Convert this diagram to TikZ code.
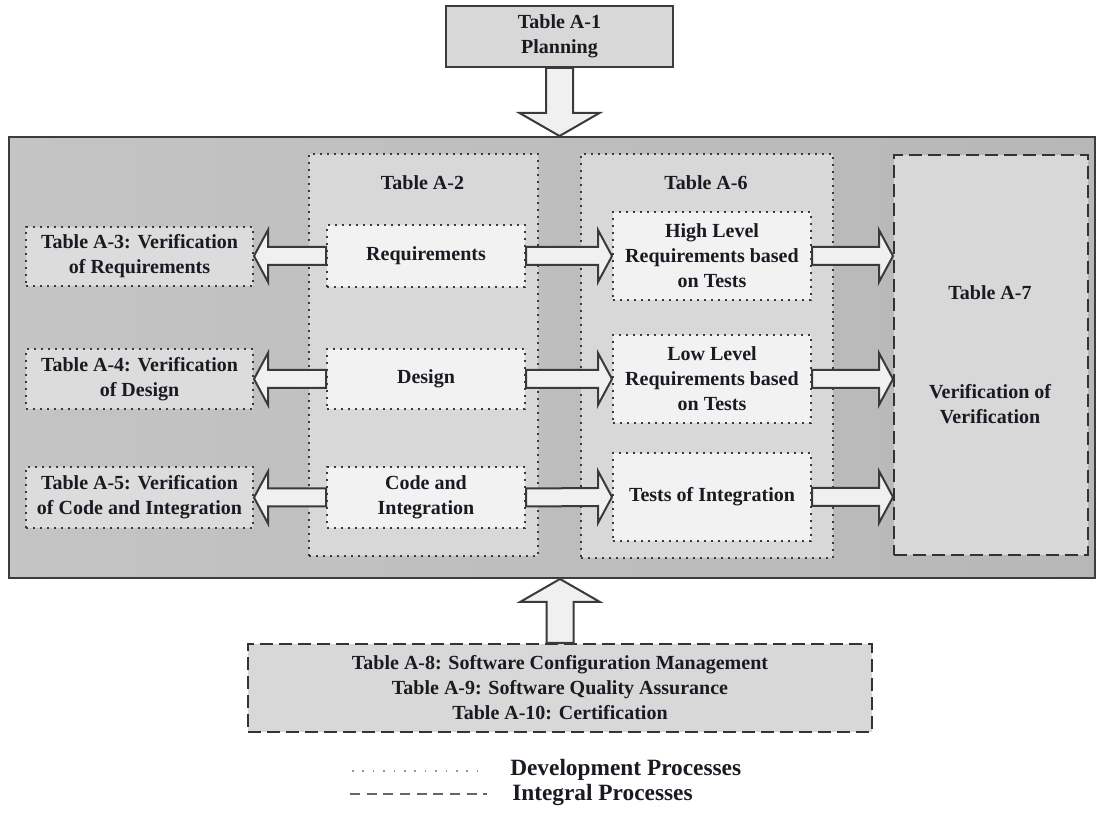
\documentclass[tikz,border=0pt]{standalone}
\usepackage{fontspec}
\setmainfont{Liberation Serif}
\usetikzlibrary{calc}
\definecolor{bigleft}{HTML}{C4C4C4}
\definecolor{bigright}{HTML}{B7B7B7}
\definecolor{bigline}{HTML}{3C3C3C}
\definecolor{midfill}{HTML}{D8D8D8}
\definecolor{sidefill}{HTML}{DCDCDC}
\definecolor{innerfill}{HTML}{F2F2F2}
\definecolor{dotc}{HTML}{3A3A3A}
\definecolor{dashc}{HTML}{333333}
\definecolor{arrfill}{HTML}{F0F0F0}
\definecolor{arrc}{HTML}{3A3A3A}
\definecolor{txt}{HTML}{1A1A22}
\definecolor{legdotc}{HTML}{999999}
\definecolor{legdashc}{HTML}{666666}
\newcommand\hfat[3]{%
  \draw[fatarr] ($(#1)+(0,9)$) -- ($(#2)+({-14*#3},9)$) -- ($(#2)+({-14*#3},26)$) -- (#2)
    -- ($(#2)+({-14*#3},-26)$) -- ($(#2)+({-14*#3},-9)$) -- ($(#1)+(0,-9)$) -- cycle;}
\newcommand\vfat[3]{%
  \draw[fatarr] ($(#1)+(-13.5,0)$) -- ($(#2)+(-13.5,{-23*#3})$) -- ($(#2)+(-40,{-23*#3})$) -- (#2)
    -- ($(#2)+(40,{-23*#3})$) -- ($(#2)+(13.5,{-23*#3})$) -- ($(#1)+(13.5,0)$) -- cycle;}
\begin{document}
\begin{tikzpicture}[x=0.75pt,y=-0.75pt,
  every node/.style={font=\bfseries\fontsize{15}{18.75}\selectfont, text=txt, align=center, inner sep=0pt},
  sz/.style 2 args={minimum width=#1*0.75pt, minimum height=#2*0.75pt, anchor=north west},
  devbox/.style={draw=dotc, line width=1.5pt, dash pattern=on 1.5pt off 3.75pt},
  intbox/.style={draw=dashc, line width=1.5pt, dash pattern=on 9.75pt off 4.5pt},
  solidbox/.style={draw=bigline, line width=1.5pt},
  fatarr/.style={draw=arrc, fill=arrfill, line width=1.5pt, line join=miter},
  legtext/.style={font=\bfseries\fontsize{17.5}{20}\selectfont, anchor=west},
]
\useasboundingbox[fill=white] (0,0) rectangle (1101,816);

% top planning box
\node[solidbox, fill=midfill, sz={227}{61}] (a1) at (445,5) {Table A-1\\Planning};

% big container
\node[solidbox, left color=bigleft, right color=bigright, sz={1086}{441}] (big) at (8,136) {};

% columns
\node[devbox, fill=midfill, sz={229}{402}] (a2) at (308,153) {};
\node[devbox, fill=midfill, sz={252}{404}] (a6) at (580,153) {};
\node[intbox, fill=midfill, sz={194}{400}] (a7) at (893,154) {};
\node (a2t) at (422.5,183) {Table A-2};
\node (a6t) at (706,183) {Table A-6};
\node (a7t) at (990,293) {Table A-7};
\node (a7v) at (990,404) {Verification of\\Verification};

% row 1
\node[devbox, fill=sidefill, sz={227}{59}] (a3) at (25,226) {Table A-3: Verification\\of Requirements};
\node[devbox, fill=innerfill, sz={198}{62}] (req) at (326,224) {Requirements};
\node[devbox, fill=innerfill, sz={198}{88}] (hlr) at (612,211) {High Level\\Requirements based\\on Tests};
% row 2
\node[devbox, fill=sidefill, sz={227}{60}] (a4) at (25,348) {Table A-4: Verification\\of Design};
\node[devbox, fill=innerfill, sz={198}{60}] (des) at (326,348) {Design};
\node[devbox, fill=innerfill, sz={198}{88}] (llr) at (612,334) {Low Level\\Requirements based\\on Tests};
% row 3
\node[devbox, fill=sidefill, sz={227}{61}] (a5) at (25,466) {Table A-5: Verification\\of Code and Integration};
\node[devbox, fill=innerfill, sz={198}{61}] (code) at (326,466) {Code and\\Integration};
\node[devbox, fill=innerfill, sz={198}{88}] (tests) at (612,452) {Tests of Integration};

% bottom integral box
\node[intbox, fill=midfill, sz={624}{88}] (bot) at (247,643) {Table A-8: Software Configuration Management\\Table A-9: Software Quality Assurance\\Table A-10: Certification};

% connector end points
\coordinate (p1) at (a1.south |- big.north);
\coordinate (p2) at (bot.north |- big.south);
\coordinate (r1) at (a7.west |- hlr.east);
\coordinate (r2) at (a7.west |- llr.east);
\coordinate (r3) at (a7.west |- tests.east);
\coordinate (l1) at (a3.east |- req.west);
\coordinate (l2) at (a4.east |- des.west);
\coordinate (l3) at (a5.east |- code.west);

% arrows
\vfat{a1.south}{p1}{1}
\vfat{bot.north}{p2}{-1}
\hfat{req.east}{hlr.west}{1}
\hfat{des.east}{llr.west}{1}
\hfat{code.east}{tests.west}{1}
\hfat{hlr.east}{r1}{1}
\hfat{llr.east}{r2}{1}
\hfat{tests.east}{r3}{1}
\hfat{req.west}{l1}{-1}
\hfat{des.west}{l2}{-1}
\hfat{code.west}{l3}{-1}

% legend
\coordinate (ld1) at (352,771);
\coordinate (ld2) at (487,771);
\coordinate (li1) at (350,794);
\coordinate (li2) at (487,794);
\draw[draw=legdotc, line width=1.2pt, dash pattern=on 1.2pt off 6.6pt] (ld1) -- (ld2);
\draw[draw=legdashc, line width=1.2pt, dash pattern=on 7.5pt off 5pt] (li1) -- (li2);
\node[legtext] (ldt) at (510,770) {Development Processes};
\node[legtext] (lit) at (512,795) {Integral Processes};
\end{tikzpicture}
\end{document}
